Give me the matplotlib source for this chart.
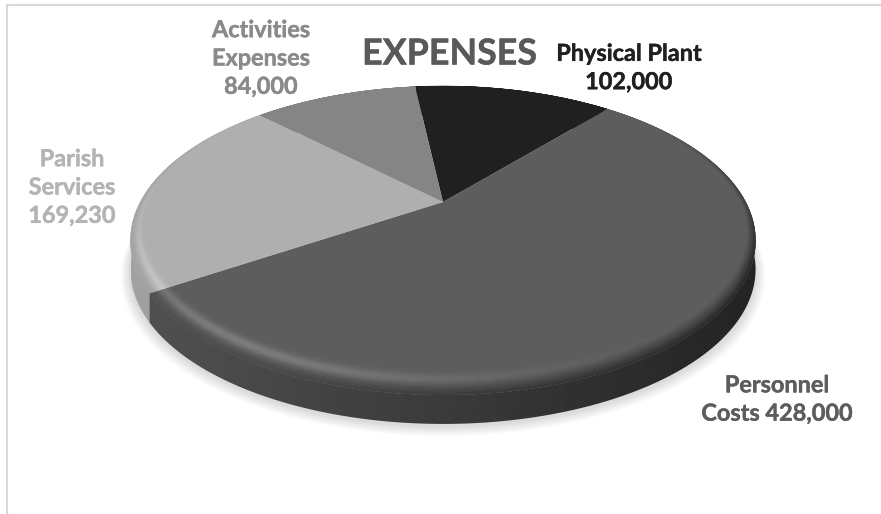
import numpy as np
import matplotlib
matplotlib.use('Agg')
import matplotlib.pyplot as plt
import matplotlib.patheffects as pe
from matplotlib.collections import PolyCollection
from matplotlib.patches import Polygon
from matplotlib.transforms import Transform

plt.rcParams['font.family'] = ['Lato', 'DejaVu Sans']

# Data, clockwise from the top of the pie
categories = ['Physical Plant', 'Personnel\nCosts', 'Parish\nServices', 'Activities\nExpenses']
values = [102000, 428000, 169230, 84000]
joiners = ['\n', ' ', '\n', '\n']
title = 'EXPENSES'

# Where the labels go (pixels) and how things look
label_pos = [(629, 68.5), (777, 400), (72, 188), (261, 59)]
top_colors = ['#202020', '#5d5d5d', '#afafaf', '#858585']
text_colors = ['#202020', '#5d5d5d', '#b4b4b4', '#8a8a8a']
rim_left = [0.25, 0.32, 0.63, 0.50]
rim_right = [0.12, 0.14, 0.55, 0.40]

# Perspective of the disc, in pixels
cx, cy = 443, 202
tilt = 0.249
half_w = 302.7
half_h = 144.9
depth = 29
rim_x0, rim_x1 = 131, 756


def project(xy):
    xy = np.asarray(xy, float)
    w = 1 + tilt * xy[..., 1]
    return np.stack([cx + half_w * xy[..., 0] / w, cy - half_h * xy[..., 1] / w], axis=-1)


class DiscTransform(Transform):
    input_dims = 2
    output_dims = 2

    def transform_non_affine(self, values):
        return project(values)


def circle(theta, r=1.0):
    return np.stack([r * np.cos(theta), r * np.sin(theta)], axis=-1)


def gray(v):
    v = float(np.clip(v, 0, 1))
    return (v, v, v)


fig = plt.figure(figsize=(8.81, 5.14), dpi=100, facecolor='white')
ax = fig.add_axes([0, 0, 1, 1])

wedges, _ = ax.pie(values, colors=top_colors, startangle=96.6, counterclock=False,
                   wedgeprops={'linewidth': 0, 'zorder': 5})
disc = DiscTransform() + ax.transData
for w in wedges:
    w.set_transform(disc)

# soft shadow under the disc
all_theta = np.linspace(0, 2 * np.pi, 361)
outline = project(circle(all_theta))
for i in range(12):
    grow = 1 + (12 - i) * 0.0026
    pts = np.array([cx, 240]) + (outline - np.array([cx, 240])) * grow
    pts = pts + np.array([0, depth + 2 + (12 - i) * 0.45])
    ax.fill(pts[:, 0], pts[:, 1], color='black', alpha=0.012, lw=0, zorder=1)

# rim: horizontal gradient clipped to the outside wall of each slice
for k, w in enumerate(wedges):
    a, b = np.radians([w.theta1, w.theta2])
    p = project(circle(np.linspace(a, b, 200)))
    wall = np.vstack([p, (p + [0, depth])[::-1]])
    grad = np.linspace(rim_left[k], rim_right[k], 256)[None, :]
    im = ax.imshow(grad, cmap='gray', vmin=0, vmax=1, aspect='auto', zorder=3,
                   extent=(rim_x0, rim_x1, 514, 0), interpolation='bilinear')
    clip = Polygon(wall, closed=True, transform=ax.transData)
    im.set_clip_path(clip)

# bevel round the top edge: highlight lower left, dark lower right
bevel_quads = []
bevel_cols = []
n_rings = 14
for k, w in enumerate(wedges):
    base = matplotlib.colors.to_rgb(top_colors[k])[0]
    a, b = np.radians([w.theta1, w.theta2])
    n = max(int(np.degrees(b - a)), 2)
    t = np.linspace(a, b, n + 1)
    width = 0.03 + 0.09 * np.clip(-np.sin(t), 0, 1)
    for j in range(n_rings):
        s0, s1 = j / n_rings, (j + 1) / n_rings
        inner = project(circle(t, 1 - (1 - s0) * width))
        outer = project(circle(t, 1 - (1 - s1) * width))
        s = 0.5 * (s0 + s1)
        for i in range(n):
            mid = 0.5 * (t[i] + t[i + 1])
            f = np.clip((outer[i][0] - rim_x0) / (rim_x1 - rim_x0), 0, 1)
            edge = rim_left[k] + (rim_right[k] - rim_left[k]) * f
            # how far round from the light on the lower left
            off = np.angle(np.exp(1j * (mid - np.radians(235))))
            light = np.exp(-(off / np.radians(42)) ** 2)
            near = np.clip(0.6 - np.sin(mid), 0, 1)
            blend = np.clip((s - 0.45) / 0.55, 0, 1) ** 1.3
            shade = base + (edge - base) * near * blend
            shade += 0.13 * light * np.exp(-((s - 0.5) / 0.2) ** 2)
            c = gray(shade)
            bevel_quads.append([inner[i], inner[i + 1], outer[i + 1], outer[i]])
            bevel_cols.append(c)
ax.add_collection(PolyCollection(bevel_quads, facecolors=bevel_cols, edgecolors=bevel_cols,
                                 linewidths=0.3, zorder=6))

# chart border, top and left only
ax.plot([7, 7, 881], [514, 5, 5], color='#d9d9d9', lw=1.5, zorder=0, solid_joinstyle='miter')

ax.set_xlim(0, 881)
ax.set_ylim(514, 0)
ax.set_aspect('auto')
ax.axis('off')

ax.text(449.5, 54, title, fontsize=25.8, fontweight='bold', color='#595959',
        ha='center', va='center', zorder=8,
        path_effects=[pe.withStroke(linewidth=0.3, foreground='#595959')])

for name, val, sep, pos, col in zip(categories, values, joiners, label_pos, text_colors):
    ax.text(pos[0], pos[1], f'{name}{sep}{val:,}', fontsize=16.9, fontweight='bold', color=col,
            ha='center', va='center', linespacing=1.43, zorder=8,
            path_effects=[pe.withStroke(linewidth=0.3, foreground=col)])

fig.savefig('out.png', dpi=100)
